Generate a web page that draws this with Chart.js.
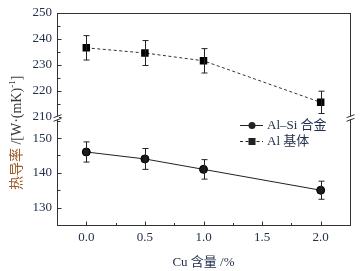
<!DOCTYPE html>
<html>
<head>
<meta charset="utf-8">
<script src="https://cdn.jsdelivr.net/npm/chart.js@4.4.0/dist/chart.umd.min.js"></script>
<style>
  html, body { margin: 0; padding: 0; background: #fff; }
  canvas { display: block; }
</style>
</head>
<body>
<canvas id="myChart" width="360" height="271"></canvas>
<script>
const cuContent = [0.0, 0.5, 1.0, 2.0];
const alSiValues = [146, 144, 141, 135];
const alSiErrors = [2.9, 3.0, 2.8, 2.6];
const alValues = [236.5, 234.5, 231.5, 215.5];
const alErrors = [4.7, 4.8, 4.7, 4.3];
const seriesNames = ["Al–Si 合金", "Al 基体"];
const xTicks = [0, 0.25, 0.5, 0.75, 1.0, 1.25, 1.5, 1.75, 2.0];
const yTopTicks = [210, 215, 220, 225, 230, 235, 240, 245, 250];
const yBotTicks = [125, 130, 135, 140, 145, 150, 155];
const xTitle = "Cu 含量 /%";
const yTitleParts = ["热导率", " /[W·(mK)", "-1", "]"];

const serif = "'Liberation Serif', 'Noto Sans CJK SC', serif";
const inkColor = "#22304d";
const lineColor = "#222";

function isMultiple(v, step) {
  return Math.abs(v / step - Math.round(v / step)) < 1e-6;
}

// error bars drawn from the scales
const errorBars = {
  id: "errorBars",
  afterDatasetsDraw(chart) {
    const ctx = chart.ctx;
    ctx.save();
    ctx.strokeStyle = lineColor;
    ctx.lineWidth = 1;
    chart.data.datasets.forEach((ds, i) => {
      const meta = chart.getDatasetMeta(i);
      const yScale = chart.scales[ds.yAxisID];
      meta.data.forEach((pt, j) => {
        const v = ds.data[j].y;
        const e = ds.errors[j];
        const x = Math.round(pt.x) + 0.5;
        const top = yScale.getPixelForValue(v + e);
        const bot = yScale.getPixelForValue(v - e);
        ctx.beginPath();
        ctx.moveTo(x, top);
        ctx.lineTo(x, bot);
        ctx.moveTo(x - 3, top);
        ctx.lineTo(x + 3, top);
        ctx.moveTo(x - 3, bot);
        ctx.lineTo(x + 3, bot);
        ctx.stroke();
      });
    });
    ctx.restore();
  },
};

// frame, inward ticks, axis break, y title and legend
const decorations = {
  id: "decorations",
  afterDraw(chart) {
    const ctx = chart.ctx;
    const area = chart.chartArea;
    const xs = chart.scales.x;
    const yTop = chart.scales.yTop;
    const yBot = chart.scales.yBot;
    ctx.save();
    ctx.strokeStyle = "#333";
    ctx.lineWidth = 1;
    const L = Math.round(area.left) + 0.5;
    const R = Math.round(area.right) + 0.5;
    const T = Math.round(area.top) + 0.5;
    const B = Math.round(area.bottom) + 0.5;
    ctx.strokeRect(L, T, R - L, B - T);

    // y ticks
    [yTop, yBot].forEach((sc) => {
      sc.ticks.forEach((t) => {
        const y = Math.round(sc.getPixelForValue(t.value)) + 0.5;
        if (y < T + 1 || y > B - 1) return;
        const len = isMultiple(t.value, 10) ? 4 : 3;
        ctx.beginPath();
        ctx.moveTo(L, y);
        ctx.lineTo(L + len, y);
        ctx.stroke();
      });
    });
    // x ticks
    xs.ticks.forEach((t) => {
      const x = Math.round(xs.getPixelForValue(t.value)) + 0.5;
      if (x < L + 1 || x > R - 1) return;
      const len = isMultiple(t.value, 0.5) ? 4 : 2.5;
      ctx.beginPath();
      ctx.moveTo(x, B);
      ctx.lineTo(x, B - len);
      ctx.stroke();
    });

    // axis break
    const yb = Math.round(yTop.bottom);
    [L, R].forEach((x) => {
      ctx.fillStyle = "#fff";
      ctx.fillRect(x - 1.5, yb - 1.5, 3, 3);
      [-1.8, 1.8].forEach((d) => {
        ctx.beginPath();
        ctx.moveTo(x - 4, yb + d + 1.5);
        ctx.lineTo(x + 4, yb + d - 1.5);
        ctx.stroke();
      });
    });

    // y title
    ctx.translate(17, (area.top + area.bottom) / 2 + 14);
    ctx.rotate(-Math.PI / 2);
    ctx.textBaseline = "middle";
    ctx.textAlign = "left";
    const big = "14px " + serif;
    const small = "9px " + serif;
    const widths = [];
    yTitleParts.forEach((p, i) => {
      ctx.font = i === 2 ? small : big;
      widths.push(ctx.measureText(p).width);
    });
    let cx = -widths.reduce((a, b) => a + b, 0) / 2;
    yTitleParts.forEach((p, i) => {
      ctx.font = i === 2 ? small : big;
      ctx.fillStyle = i === 0 ? "#9a5a28" : "#3a3a3a";
      ctx.fillText(p, cx, i === 2 ? -4 : 0);
      cx += widths[i];
    });
    ctx.restore();

    // legend
    ctx.save();
    ctx.strokeStyle = lineColor;
    ctx.fillStyle = lineColor;
    ctx.lineWidth = 1;
    const rows = [125, 141];
    rows.forEach((y, i) => {
      ctx.setLineDash(i === 0 ? [] : [3, 2.5]);
      ctx.beginPath();
      ctx.moveTo(240, y + 0.5);
      ctx.lineTo(263, y + 0.5);
      ctx.stroke();
      ctx.setLineDash([]);
      if (i === 0) {
        ctx.beginPath();
        ctx.arc(252, y + 0.5, 3.5, 0, Math.PI * 2);
        ctx.fill();
      } else {
        ctx.fillRect(248.5, y - 3, 7, 7);
      }
      ctx.font = "13px " + serif;
      ctx.textBaseline = "middle";
      ctx.fillStyle = inkColor;
      ctx.fillText(seriesNames[i], 267, y + 1);
      ctx.fillStyle = lineColor;
    });
    ctx.restore();
  },
};

const toPoints = (vals) => cuContent.map((x, i) => ({ x: x, y: vals[i] }));
const setTicks = (list) => (scale) => {
  scale.ticks = list.map((v) => ({ value: v }));
};

const ctx = document.getElementById("myChart");
new Chart(ctx, {
  type: "line",
  data: {
    datasets: [
      {
        label: seriesNames[0],
        data: toPoints(alSiValues),
        errors: alSiErrors,
        yAxisID: "yBot",
        borderColor: lineColor,
        borderWidth: 1,
        pointStyle: "circle",
        pointRadius: 4,
        pointBackgroundColor: "#1a1a1a",
        pointBorderColor: "#000",
        pointBorderWidth: 1,
        tension: 0,
      },
      {
        label: seriesNames[1],
        data: toPoints(alValues),
        errors: alErrors,
        yAxisID: "yTop",
        borderColor: "#333",
        borderWidth: 1,
        borderDash: [3, 2.5],
        pointStyle: "rect",
        pointRadius: 5.3,
        pointBackgroundColor: "#000",
        pointBorderColor: "#000",
        pointBorderWidth: 0,
        tension: 0,
      },
    ],
  },
  options: {
    responsive: false,
    animation: false,
    layout: { padding: { top: 8, right: 10, left: 0, bottom: 0 } },
    plugins: {
      legend: { display: false },
      tooltip: { enabled: false },
    },
    scales: {
      x: {
        type: "linear",
        min: -0.25,
        max: 2.25,
        grid: { display: false, drawTicks: false },
        border: { display: false },
        afterFit: (scale) => { scale.height = 46; },
        afterBuildTicks: setTicks(xTicks),
        ticks: {
          autoSkip: false,
          maxRotation: 0,
          padding: 5,
          color: inkColor,
          font: { family: serif, size: 13 },
          callback: (v) => (isMultiple(v, 0.5) ? v.toFixed(1) : ""),
        },
        title: {
          display: true,
          text: xTitle,
          color: inkColor,
          font: { family: serif, size: 13 },
          padding: { top: 0, bottom: 1 },
        },
      },
      yBot: {
        type: "linear",
        position: "left",
        stack: "y",
        stackWeight: 108.5,
        min: 125,
        max: 155.8,
        grid: { display: false, drawTicks: false },
        border: { display: false },
        afterFit: (scale) => { scale.width = 57; },
        afterBuildTicks: setTicks(yBotTicks),
        ticks: {
          autoSkip: false,
          padding: 5,
          color: inkColor,
          font: { family: serif, size: 13 },
          callback: (v) => (isMultiple(v, 10) ? v : ""),
        },
      },
      yTop: {
        type: "linear",
        position: "left",
        stack: "y",
        stackWeight: 106.5,
        min: 209.5,
        max: 250,
        grid: { display: false, drawTicks: false },
        border: { display: false },
        afterFit: (scale) => { scale.width = 57; },
        afterBuildTicks: setTicks(yTopTicks),
        ticks: {
          autoSkip: false,
          padding: 5,
          color: inkColor,
          font: { family: serif, size: 13 },
          callback: (v) => (isMultiple(v, 10) ? v : ""),
        },
      },
    },
  },
  plugins: [errorBars, decorations],
});
</script>
</body>
</html>
